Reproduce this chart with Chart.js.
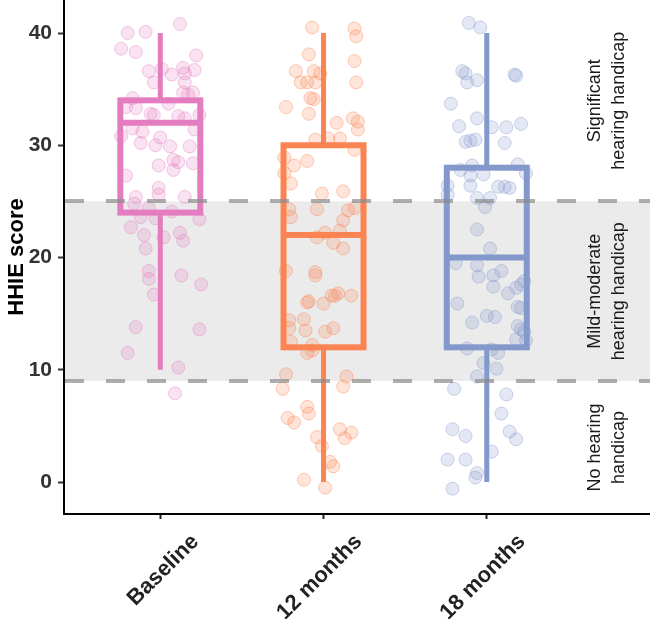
<!DOCTYPE html>
<html>
<head>
<meta charset="utf-8">
<script src="https://cdn.jsdelivr.net/npm/chart.js@4.4.1/dist/chart.umd.min.js"></script>
<style>
  html, body { margin: 0; padding: 0; background: #fff; }
  canvas { display: block; }
</style>
</head>
<body>
<canvas id="chart" width="650" height="619"></canvas>
<script>
// categories and box statistics
const categories = ["Baseline", "12 months", "18 months"];
const whiskerLow = [10, 0, 0];
const q1 = [24, 12, 12];
const medians = [32, 22, 20];
const q3 = [34, 30, 28];
const whiskerHigh = [40, 40, 40];
const yTicks = [0, 10, 20, 30, 40];

// reference band (mild-moderate)
const bandLow = 9;
const bandHigh = 25;
const zoneLabels = [
  { from: 25, to: 42.94, lines: ["Significant", "hearing handicap"] },
  { from: 9, to: 25, lines: ["Mild-moderate", "hearing handicap"] },
  { from: -2.85, to: 9, lines: ["No hearing", "handicap"] },
];

const colors = ["#E47DC0", "#FC8352", "#8398CB"];

// individual scores: [jitter, score]
const baselineScores = [
  [0.12, 40.8], [-0.20, 40.0], [-0.09, 40.1], [-0.24, 38.6], [-0.15, 38.3], [0.22, 38.0],
  [-0.07, 36.6], [0.01, 36.8], [0.07, 36.3], [0.14, 36.9], [0.21, 36.7], [0.15, 36.4],
  [-0.04, 35.6], [0.15, 35.6], [0.14, 34.7], [0.20, 34.7], [0.17, 34.5], [-0.17, 34.2],
  [-0.15, 33.3], [-0.21, 33.4], [0.05, 33.7], [-0.06, 32.8], [-0.04, 32.7], [0.11, 32.6],
  [0.15, 32.4], [0.24, 32.7], [0.21, 31.4], [-0.24, 30.8], [-0.17, 31.5], [-0.11, 31.2],
  [0.00, 30.7], [-0.12, 30.2], [-0.03, 30.0], [0.06, 29.9], [0.18, 29.9], [0.08, 28.7],
  [0.11, 28.5], [-0.01, 28.2], [0.20, 28.4], [0.08, 27.8], [-0.21, 27.3], [-0.01, 26.2],
  [-0.01, 25.6], [-0.15, 25.4], [0.15, 25.4], [-0.16, 24.8], [-0.07, 24.4], [0.07, 24.1],
  [-0.12, 23.6], [-0.03, 23.5], [0.24, 23.4], [-0.18, 22.7], [-0.10, 22.0], [0.02, 21.8],
  [0.12, 22.2], [0.14, 21.5], [-0.09, 20.8], [-0.07, 18.8], [-0.07, 18.1], [0.13, 18.4],
  [0.25, 17.6], [-0.04, 16.7], [-0.15, 13.8], [0.24, 13.6], [-0.20, 11.5], [0.11, 10.2],
  [0.09, 7.9],
];
const month12Scores = [
  [-0.07, 40.5], [0.19, 40.4], [0.20, 39.7], [-0.09, 38.1], [0.19, 37.5], [-0.17, 36.6],
  [-0.06, 36.6], [-0.02, 36.4], [-0.14, 35.6], [-0.10, 35.6], [-0.05, 35.6], [0.20, 35.6],
  [-0.08, 34.2], [-0.06, 34.1], [-0.23, 33.4], [-0.09, 32.8], [0.08, 32.0], [0.18, 32.4],
  [0.21, 32.1], [0.21, 31.4], [-0.05, 30.5], [0.03, 30.6], [0.10, 30.6], [0.19, 29.6],
  [-0.24, 28.9], [-0.10, 28.6], [-0.18, 28.2], [-0.24, 27.5], [-0.20, 26.6], [-0.01, 25.7],
  [0.12, 25.9], [-0.21, 24.3], [-0.20, 23.6], [-0.04, 24.3], [0.15, 24.2], [0.19, 24.4],
  [0.12, 23.3], [0.10, 22.4], [0.01, 22.2], [-0.04, 21.8], [0.06, 21.3], [0.12, 20.8],
  [-0.23, 18.8], [-0.05, 18.7], [-0.05, 18.4], [-0.09, 16.1], [-0.10, 16.0], [0.00, 15.9],
  [0.05, 16.6], [0.07, 16.6], [0.09, 16.8], [0.17, 16.6], [-0.21, 14.4], [-0.12, 14.5],
  [-0.21, 13.7], [-0.11, 13.5], [0.01, 13.4], [0.06, 13.7], [-0.20, 12.5], [-0.07, 12.2],
  [-0.10, 11.5], [-0.07, 11.7], [-0.23, 9.6], [-0.25, 8.3], [0.14, 9.4], [0.12, 8.5],
  [-0.10, 6.7], [-0.09, 6.1], [-0.22, 5.7], [-0.18, 5.3], [-0.04, 4.0], [-0.01, 3.2],
  [0.10, 4.7], [0.17, 4.4], [0.13, 3.9], [0.04, 1.8], [0.06, 1.4], [-0.12, 0.2],
  [0.01, -0.5],
];
const month18Scores = [
  [-0.11, 40.9], [-0.04, 40.5], [-0.15, 36.6], [-0.13, 36.4], [-0.12, 35.6], [-0.06, 35.8],
  [0.17, 36.3], [0.18, 36.2], [-0.22, 33.7], [-0.06, 32.4], [-0.17, 31.7], [0.03, 31.6],
  [0.12, 31.6], [0.21, 31.9], [-0.13, 30.3], [-0.10, 30.4], [-0.07, 30.5], [0.11, 30.2],
  [-0.16, 27.8], [-0.09, 28.2], [-0.10, 27.3], [-0.02, 27.4], [0.19, 28.3], [0.24, 27.5],
  [-0.24, 26.4], [-0.24, 25.6], [-0.10, 26.4], [0.07, 26.3], [0.11, 26.3], [0.14, 26.2],
  [-0.06, 25.3], [0.02, 25.3], [-0.01, 24.5], [-0.06, 22.5], [0.02, 20.8], [-0.19, 19.5],
  [-0.06, 19.3], [-0.05, 18.3], [0.04, 18.4], [0.09, 18.8], [0.04, 17.4], [0.13, 16.8],
  [0.18, 17.3], [0.21, 17.6], [0.23, 17.9], [0.19, 15.6], [0.21, 15.5], [-0.18, 15.9],
  [-0.09, 14.2], [0.00, 14.8], [0.05, 14.7], [0.19, 13.9], [0.21, 13.6], [0.23, 13.4],
  [0.18, 12.7], [0.24, 12.6], [-0.12, 11.9], [0.03, 11.8], [0.07, 11.5], [-0.02, 10.6],
  [0.06, 10.1], [-0.06, 9.4], [-0.20, 8.3], [0.12, 7.8], [0.09, 6.1], [-0.21, 4.7],
  [-0.13, 4.1], [0.14, 4.5], [0.18, 3.8], [0.03, 2.7], [-0.24, 2.0], [-0.13, 2.0],
  [-0.06, 0.8], [-0.07, 0.4], [-0.21, -0.6],
];
const scoreGroups = [baselineScores, month12Scores, month18Scores];

const hexToRgba = (hex, a) => {
  const n = parseInt(hex.slice(1), 16);
  return `rgba(${(n >> 16) & 255}, ${(n >> 8) & 255}, ${n & 255}, ${a})`;
};

const FONT = "'Liberation Sans', Arial, sans-serif";

// band, boxes, dashed lines and zone labels
const boxPlugin = {
  id: "boxPlot",
  beforeDatasetsDraw(chart) {
    const { ctx, chartArea, scales: { y } } = chart;
    ctx.save();
    ctx.fillStyle = "#EBEBEB";
    const top = y.getPixelForValue(bandHigh);
    const bottom = y.getPixelForValue(bandLow);
    ctx.fillRect(chartArea.left + 1, top, chartArea.right - chartArea.left - 1, bottom - top);
    ctx.restore();
  },
  afterDatasetsDraw(chart) {
    const { ctx, chartArea, scales: { x, y } } = chart;
    ctx.save();
    const half = (x.getPixelForValue(1) - x.getPixelForValue(0)) * 0.245;

    categories.forEach((_, i) => {
      const cx = x.getPixelForValue(i);
      ctx.strokeStyle = colors[i];
      // whiskers
      ctx.lineWidth = 5;
      ctx.beginPath();
      ctx.moveTo(cx, y.getPixelForValue(whiskerHigh[i]));
      ctx.lineTo(cx, y.getPixelForValue(q3[i]));
      ctx.moveTo(cx, y.getPixelForValue(q1[i]));
      ctx.lineTo(cx, y.getPixelForValue(whiskerLow[i]));
      ctx.stroke();
      // box
      ctx.lineWidth = 6;
      const top = y.getPixelForValue(q3[i]);
      const bottom = y.getPixelForValue(q1[i]);
      ctx.strokeRect(cx - half, top, half * 2, bottom - top);
      // median
      const m = y.getPixelForValue(medians[i]);
      ctx.beginPath();
      ctx.moveTo(cx - half, m);
      ctx.lineTo(cx + half, m);
      ctx.stroke();
    });

    // dashed band limits
    ctx.strokeStyle = "rgba(140, 140, 140, 0.7)";
    ctx.lineWidth = 4;
    ctx.setLineDash([19, 22]);
    [bandHigh, bandLow].forEach(v => {
      const py = Math.round(y.getPixelForValue(v));
      ctx.beginPath();
      ctx.moveTo(chartArea.left + 1, py);
      ctx.lineTo(chartArea.right, py);
      ctx.stroke();
    });
    ctx.setLineDash([]);

    // zone labels
    ctx.fillStyle = "#1A1A1A";
    ctx.font = `18px ${FONT}`;
    ctx.textAlign = "center";
    ctx.textBaseline = "middle";
    const lx = x.getPixelForValue(2.735);
    zoneLabels.forEach(z => {
      const cy = (y.getPixelForValue(z.from) + y.getPixelForValue(z.to)) / 2;
      ctx.save();
      ctx.translate(lx, cy);
      ctx.rotate(-Math.PI / 2);
      z.lines.forEach((line, k) => {
        ctx.fillText(line, 0, (k - (z.lines.length - 1) / 2) * 24);
      });
      ctx.restore();
    });
    ctx.restore();
  },
};

const datasets = scoreGroups.map((group, i) => ({
  label: categories[i],
  data: group.map(([dx, v]) => ({ x: i + dx, y: v })),
  pointRadius: 6.5,
  pointHoverRadius: 6.5,
  backgroundColor: hexToRgba(colors[i], 0.22),
  borderColor: hexToRgba(colors[i], 0.4),
  borderWidth: 1,
}));

new Chart(document.getElementById("chart").getContext("2d"), {
  type: "scatter",
  data: { datasets },
  plugins: [boxPlugin],
  options: {
    responsive: false,
    animation: false,
    devicePixelRatio: 1,
    layout: { padding: 0, autoPadding: false },
    plugins: {
      legend: { display: false },
      tooltip: { enabled: false },
    },
    scales: {
      x: {
        type: "linear",
        min: -0.59,
        max: 3.0,
        afterFit: scale => {
          scale.height = 105;
          scale.paddingLeft = 0;
          scale.paddingRight = 0;
        },
        afterBuildTicks: scale => { scale.ticks = [0, 1, 2].map(v => ({ value: v })); },
        grid: { drawOnChartArea: false, drawTicks: true, tickLength: 5, color: "#222", tickWidth: 2 },
        border: { display: true, color: "#000", width: 2 },
        ticks: {
          minRotation: 45,
          maxRotation: 45,
          labelOffset: 35,
          padding: 10,
          color: "#222",
          font: { family: FONT, size: 22, weight: "bold" },
          callback: v => categories[v] ?? "",
        },
      },
      y: {
        min: -2.85,
        max: 42.94,
        afterFit: scale => {
          scale.width = 64;
          scale.paddingTop = 0;
          scale.paddingBottom = 0;
        },
        afterBuildTicks: scale => { scale.ticks = yTicks.map(v => ({ value: v })); },
        grid: { drawOnChartArea: false, drawTicks: true, tickLength: 6, color: "#333", tickWidth: 2 },
        border: { display: true, color: "#000", width: 2 },
        ticks: {
          padding: 6,
          color: "#333",
          font: { family: FONT, size: 21, weight: "bold" },
        },
        title: {
          display: true,
          text: "HHIE score",
          color: "#000",
          padding: { top: 4, bottom: 0 },
          font: { family: FONT, size: 22, weight: "bold" },
        },
      },
    },
  },
});
</script>
</body>
</html>
